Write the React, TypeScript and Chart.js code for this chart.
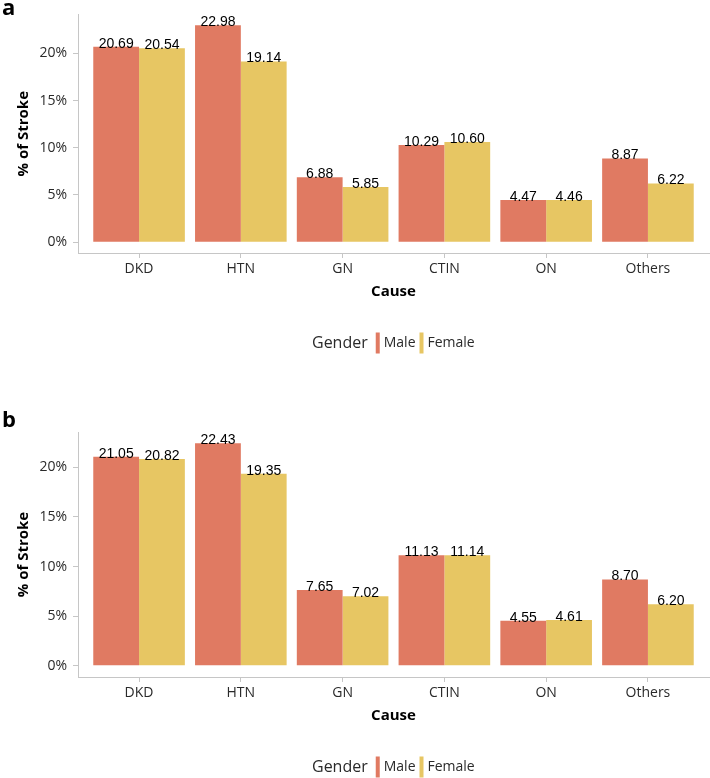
import React, { useEffect, useRef } from "react";
import { Chart, registerables } from "chart.js";

Chart.register(...registerables);

// ---- data ----
const categories = ["DKD", "HTN", "GN", "CTIN", "ON", "Others"];
const seriesNames = ["Male", "Female"];
const maleA = [20.69, 22.98, 6.88, 10.29, 4.47, 8.87];
const femaleA = [20.54, 19.14, 5.85, 10.6, 4.46, 6.22];
const maleB = [21.05, 22.43, 7.65, 11.13, 4.55, 8.7];
const femaleB = [20.82, 19.35, 7.02, 11.14, 4.61, 6.2];
const yTickValues = [0, 5, 10, 15, 20];
const xTitle = "Cause";
const yTitle = "% of Stroke";
const legendTitle = "Gender";
const panelLabels = ["a", "b"];

// ---- style ----
const MALE_COLOR = "#E07A62";
const FEMALE_COLOR = "#E7C663";
const AXIS_COLOR = "#c6c6c6";
const TEXT_COLOR = "#2a2a2a";
const FONT = "'Open Sans', 'Noto Sans', sans-serif";
const CANVAS_W = 710;
const PLOT_LEFT = 78;
const PLOT_RIGHT = 709;
const PLOT_H = 245;

Chart.defaults.font.family = FONT;

type PanelProps = {
  top: number;
  height: number;
  padTop: number;
  letter: string;
  letterY: number;
  male: number[];
  female: number[];
};

function Panel({ top, height, padTop, letter, letterY, male, female }: PanelProps) {
  const ref = useRef<HTMLCanvasElement>(null);

  useEffect(() => {
    if (!ref.current) return;
    const plotBottom = padTop + PLOT_H;
    const xAxisH = height - plotBottom;
    const causeY = plotBottom + 39;
    const legendY = plotBottom + 90;
    const maxV = Math.max(...male, ...female);
    const expand = 0.05 * maxV;
    const toPoints = (vals: number[]) => vals.map((v, i) => ({ x: i + 1, y: v }));

    const valueLabels = {
      id: "valueLabels",
      afterDatasetsDraw(chart: any) {
        const ctx = chart.ctx;
        ctx.save();
        ctx.font = "14px 'Liberation Sans', Arial, sans-serif";
        ctx.fillStyle = "#000";
        ctx.textAlign = "center";
        ctx.textBaseline = "alphabetic";
        chart.data.datasets.forEach((ds: any, di: number) => {
          const meta = chart.getDatasetMeta(di);
          meta.data.forEach((el: any, i: number) => {
            const v = ds.data[i].y as number;
            ctx.fillText(v.toFixed(2), el.x, el.y + 1);
          });
        });
        ctx.restore();
      },
    };

    const deco = {
      id: "deco",
      afterDraw(chart: any) {
        const ctx = chart.ctx;
        ctx.save();
        // panel letter
        ctx.font = `bold 22px ${FONT}`;
        ctx.fillStyle = "#000";
        ctx.textAlign = "left";
        ctx.textBaseline = "alphabetic";
        ctx.fillText(letter, 2, letterY);
        // legend
        ctx.textBaseline = "middle";
        let x = 312;
        ctx.fillStyle = TEXT_COLOR;
        ctx.font = `16px ${FONT}`;
        ctx.fillText(legendTitle, x, legendY);
        x += ctx.measureText(legendTitle).width + 8;
        const colors = [MALE_COLOR, FEMALE_COLOR];
        seriesNames.forEach((name, i) => {
          ctx.fillStyle = colors[i];
          ctx.fillRect(x, legendY - 10.5, 4, 21);
          x += 4 + 4;
          ctx.fillStyle = TEXT_COLOR;
          ctx.font = `14px ${FONT}`;
          ctx.fillText(name, x, legendY);
          x += ctx.measureText(name).width + 4;
        });
        ctx.restore();
      },
    };

    const chart = new Chart(ref.current, {
      type: "bar",
      data: {
        datasets: [
          {
            label: seriesNames[0],
            data: toPoints(male) as any,
            backgroundColor: MALE_COLOR,
            borderWidth: 0,
            categoryPercentage: 0.9,
            barPercentage: 1,
          },
          {
            label: seriesNames[1],
            data: toPoints(female) as any,
            backgroundColor: FEMALE_COLOR,
            borderWidth: 0,
            categoryPercentage: 0.9,
            barPercentage: 1,
          },
        ],
      },
      options: {
        responsive: false,
        animation: false,
        events: [],
        layout: { padding: { top: padTop, right: CANVAS_W - PLOT_RIGHT, left: 0, bottom: 0 } },
        plugins: { legend: { display: false }, tooltip: { enabled: false } },
        scales: {
          x: {
            type: "linear",
            min: 0.4,
            max: 6.6,
            offset: false,
            grid: {
              display: true,
              drawOnChartArea: false,
              drawTicks: true,
              tickLength: 5,
              tickColor: AXIS_COLOR,
              offset: false,
            },
            border: { display: true, color: AXIS_COLOR, width: 1 },
            afterBuildTicks: (s: any) => {
              s.ticks = categories.map((_, i) => ({ value: i + 1 }));
            },
            ticks: {
              autoSkip: false,
              maxRotation: 0,
              padding: 3,
              color: TEXT_COLOR,
              font: { family: FONT, size: 14 },
              callback: (v: any) => categories[Math.round(Number(v)) - 1] ?? "",
            },
            title: {
              display: true,
              text: xTitle,
              color: "#000",
              font: { family: FONT, size: 15, weight: "bold" },
              padding: { top: 0, bottom: height - causeY - 9 },
            },
            afterFit: (s: any) => {
              s.height = xAxisH;
            },
          } as any,
          y: {
            type: "linear",
            min: -expand,
            max: maxV + expand,
            grid: {
              display: true,
              drawOnChartArea: false,
              drawTicks: true,
              tickLength: 5,
              tickColor: AXIS_COLOR,
            },
            border: { display: true, color: AXIS_COLOR, width: 1 },
            afterBuildTicks: (s: any) => {
              s.ticks = yTickValues.map((v) => ({ value: v }));
            },
            ticks: {
              padding: 6,
              color: TEXT_COLOR,
              font: { family: FONT, size: 14 },
              callback: (v: any) => `${v}%`,
            },
            title: {
              display: true,
              text: yTitle,
              color: "#000",
              font: { family: FONT, size: 15, weight: "bold" },
              padding: { top: 15, bottom: 0 },
            },
            afterFit: (s: any) => {
              s.width = PLOT_LEFT;
            },
          } as any,
        },
      },
      plugins: [valueLabels, deco],
    });
    return () => chart.destroy();
  }, []);

  return (
    <canvas
      ref={ref}
      width={CANVAS_W}
      height={height}
      style={{ position: "absolute", left: 0, top, width: CANVAS_W, height }}
    />
  );
}

export default function App() {
  return (
    <div style={{ position: "absolute", left: 0, top: 0, width: 710, height: 778, background: "#fff" }}>
      <Panel top={0} height={390} padTop={8} letter={panelLabels[0]} letterY={15} male={maleA} female={femaleA} />
      <Panel top={390} height={388} padTop={42} letter={panelLabels[1]} letterY={37} male={maleB} female={femaleB} />
    </div>
  );
}
